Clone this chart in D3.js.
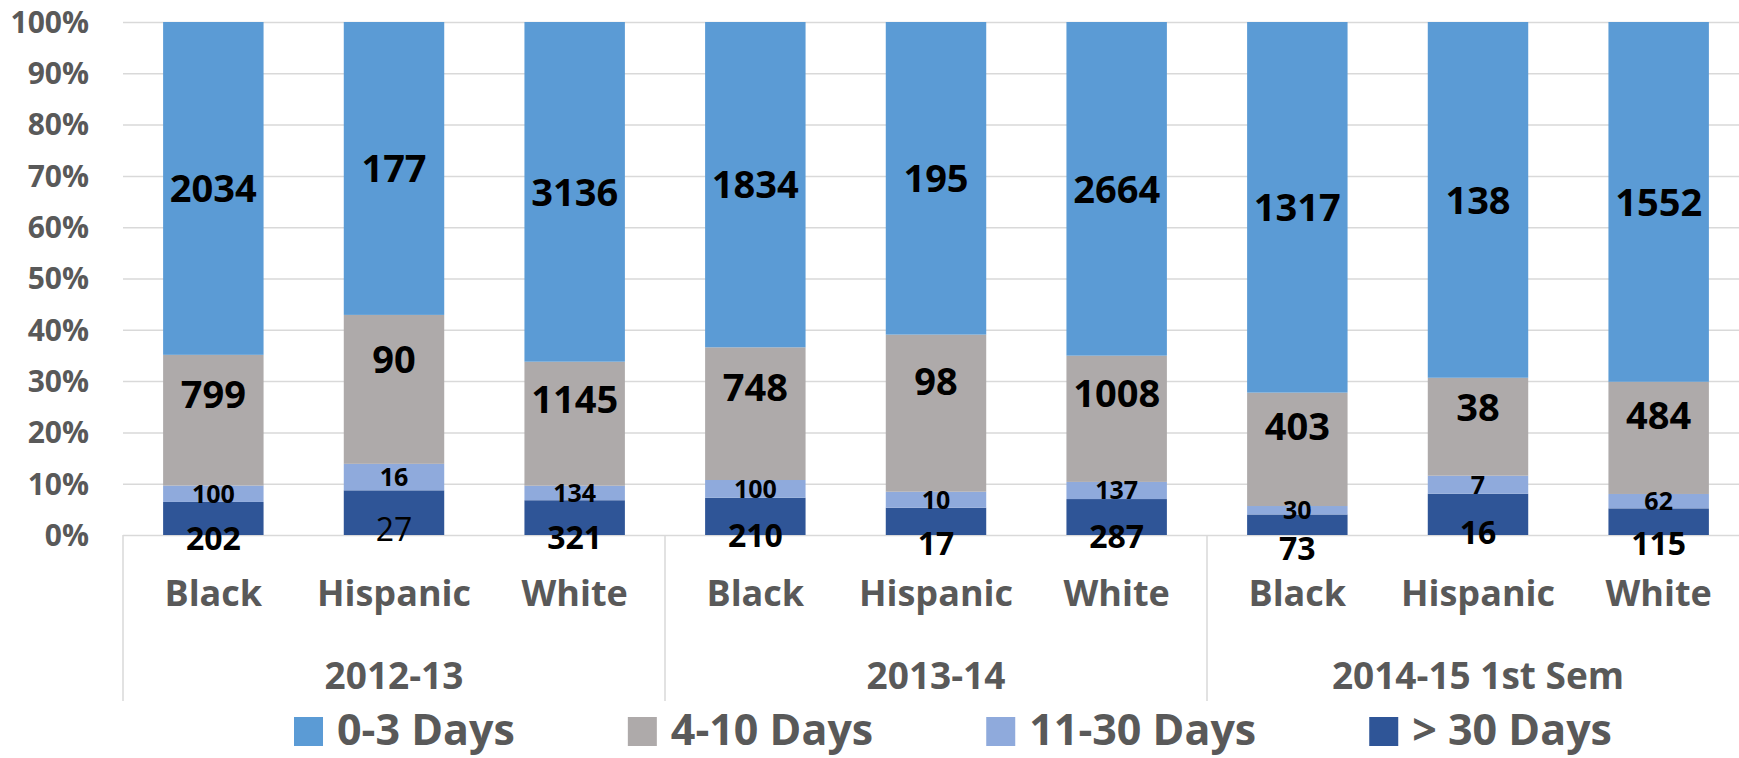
<!DOCTYPE html>
<html>
<head>
<meta charset="utf-8">
<script src="https://cdn.jsdelivr.net/npm/d3@7"></script>
<style>
    body { margin: 0; background: #fff; }
    svg { display: block; font-family: "Open Sans", sans-serif; font-weight: bold; }
    .grid line { stroke: #d9d9d9; stroke-width: 1.5; }
    .grid path { display: none; }
    .tick-label { fill: #595959; font-size: 30px; }
    .race-label { fill: #595959; font-size: 36px; }
    .year-label { fill: #595959; font-size: 37px; }
    .legend-label { fill: #595959; font-size: 43px; }
    .bar-label { fill: #000; }
</style>
</head>
<body>
<svg id="chart"></svg>
<script>
// data
const years = ['2012-13', '2013-14', '2014-15 1st Sem'];
const races = ['Black', 'Hispanic', 'White'];
const seriesNames = ['0-3 Days', '4-10 Days', '11-30 Days', '> 30 Days'];
const days0to3 = [2034, 177, 3136, 1834, 195, 2664, 1317, 138, 1552];
const days4to10 = [799, 90, 1145, 748, 98, 1008, 403, 38, 484];
const days11to30 = [100, 16, 134, 100, 10, 137, 30, 7, 62];
const daysOver30 = [202, 27, 321, 210, 17, 287, 73, 16, 115];
const yTickValues = [0, 0.1, 0.2, 0.3, 0.4, 0.5, 0.6, 0.7, 0.8, 0.9, 1];
// labels drawn in regular weight in the original
const plainLabels = ['2012-13|Hispanic|> 30 Days'];

const colors = {
    '0-3 Days': '#5b9bd5',
    '4-10 Days': '#aeaaaa',
    '11-30 Days': '#8faadc',
    '> 30 Days': '#2f5597'
};

const width = 1739, height = 758;
const svg = d3.select('#chart').attr('width', width).attr('height', height);

// rows: one per bar
const rows = [];
years.forEach((year, i) => {
    races.forEach((race, j) => {
        const k = i * races.length + j;
        rows.push({
            key: year + '|' + race,
            year, race,
            '0-3 Days': days0to3[k],
            '4-10 Days': days4to10[k],
            '11-30 Days': days11to30[k],
            '> 30 Days': daysOver30[k]
        });
    });
});

const plot = { left: 123, right: 1749, top: 22, bottom: 535 };

const x = d3.scaleBand()
    .domain(rows.map(d => d.key))
    .range([plot.left, plot.right])
    .paddingInner(0.444)
    .paddingOuter(0.222);

const y = d3.scaleLinear()
    .domain([0, 1])
    .range([plot.bottom, plot.top]);

// Grid
svg.append('g')
    .attr('class', 'grid')
    .attr('transform', `translate(${plot.left},0)`)
    .call(d3.axisRight(y)
        .tickValues(yTickValues)
        .tickSize(plot.right - plot.left)
        .tickFormat(''));

// Y tick labels
svg.append('g')
    .selectAll('text')
    .data(yTickValues)
    .join('text')
    .attr('class', 'tick-label')
    .attr('x', 89)
    .attr('y', d => y(d))
    .attr('dy', '0.36em')
    .attr('text-anchor', 'end')
    .text(d3.format('.0%'));

// Stacked bars (bottom to top)
const stackKeys = seriesNames.slice().reverse();
const stacked = d3.stack()
    .keys(stackKeys)
    .offset(d3.stackOffsetExpand)(rows);

const layers = svg.append('g')
    .selectAll('g')
    .data(stacked)
    .join('g')
    .attr('fill', d => colors[d.key]);

layers.selectAll('rect')
    .data(d => d)
    .join('rect')
    .attr('x', d => x(d.data.key))
    .attr('width', x.bandwidth())
    .attr('y', d => y(d[1]))
    .attr('height', d => y(d[0]) - y(d[1]));

// Data labels
const labelSize = { '0-3 Days': 38, '4-10 Days': 38, '11-30 Days': 25, '> 30 Days': 32 };

function labelY(series, d) {
    const top = y(d[1]), bottom = y(d[0]), h = bottom - top;
    if (series === '> 30 Days') return bottom + 30 - h * 0.8;
    if (series === '4-10 Days') return bottom - h * 0.7;
    return (top + bottom) / 2;
}

stacked.forEach(layer => {
    svg.append('g')
        .selectAll('text')
        .data(layer)
        .join('text')
        .attr('class', 'bar-label')
        .attr('x', d => x(d.data.key) + x.bandwidth() / 2)
        .attr('y', d => labelY(layer.key, d))
        .attr('dy', '0.36em')
        .attr('text-anchor', 'middle')
        .style('font-size', labelSize[layer.key] + 'px')
        .style('font-weight', d => plainLabels.includes(d.data.key + '|' + layer.key) ? 'normal' : 'bold')
        .text(d => d.data[layer.key]);
});

// Category axis: race labels, year labels, separators
svg.append('g')
    .selectAll('text')
    .data(rows)
    .join('text')
    .attr('class', 'race-label')
    .attr('x', d => x(d.key) + x.bandwidth() / 2)
    .attr('y', 606)
    .attr('text-anchor', 'middle')
    .text(d => d.race);

const groupWidth = x.step() * races.length;
svg.append('g')
    .selectAll('text')
    .data(years)
    .join('text')
    .attr('class', 'year-label')
    .attr('x', (d, i) => plot.left + groupWidth * (i + 0.5))
    .attr('y', 689)
    .attr('text-anchor', 'middle')
    .text(d => d);

svg.append('g')
    .selectAll('line')
    .data(d3.range(years.length + 1))
    .join('line')
    .attr('x1', i => plot.left + groupWidth * i)
    .attr('x2', i => plot.left + groupWidth * i)
    .attr('y1', plot.bottom)
    .attr('y2', 701)
    .attr('stroke', '#d9d9d9')
    .attr('stroke-width', 1.5);

// Legend
const legend = svg.append('g');
const items = legend.selectAll('g')
    .data(seriesNames)
    .join('g');

items.append('rect')
    .attr('x', 0)
    .attr('y', 717)
    .attr('width', 29)
    .attr('height', 29)
    .attr('fill', d => colors[d]);

items.append('text')
    .attr('class', 'legend-label')
    .attr('x', 43)
    .attr('y', 745)
    .text(d => d);

let offset = 0;
const widths = [];
items.each(function() {
    const w = 43 + d3.select(this).select('text').node().getComputedTextLength();
    widths.push(w);
});
const gap = 113;
const total = d3.sum(widths) + gap * (widths.length - 1);
const legendStart = 953 - total / 2;
items.attr('transform', (d, i) => {
    const t = `translate(${legendStart + offset},0)`;
    offset += widths[i] + gap;
    return t;
});
</script>
</body>
</html>
